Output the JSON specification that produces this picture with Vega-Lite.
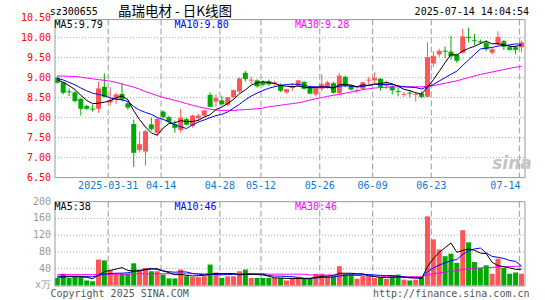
{
"$schema": "https://vega.github.io/schema/vega-lite/v6.json",
"width": 480, "height": 266.4,
"autosize": "none",
"padding": {"left": 50, "top": 19.6, "right": 15, "bottom": 14},
"background": "white",
"config": {"view": {"stroke": null}, "text": {"font": "DejaVu Sans Mono", "fontSize": 10}},
"datasets": {
"k": [
{"i":0,"d":"03-18","o":9.00,"h":9.04,"l":8.85,"c":8.88,"v":18,"m5":8.95,"m10":8.98,"m30":9.04,"vm5":20,"vm10":22,"vm30":26},
{"i":1,"d":"03-19","o":8.88,"h":8.90,"l":8.58,"c":8.63,"v":28,"m5":8.88,"m10":8.94,"m30":9.04,"vm5":20,"vm10":22,"vm30":26},
{"i":2,"d":"03-20","o":8.65,"h":8.73,"l":8.54,"c":8.64,"v":18,"m5":8.80,"m10":8.88,"m30":9.03,"vm5":21,"vm10":22,"vm30":26},
{"i":3,"d":"03-21","o":8.63,"h":8.67,"l":8.38,"c":8.42,"v":20,"m5":8.70,"m10":8.82,"m30":9.03,"vm5":21,"vm10":22,"vm30":26},
{"i":4,"d":"03-24","o":8.47,"h":8.50,"l":8.05,"c":8.23,"v":20,"m5":8.56,"m10":8.74,"m30":9.01,"vm5":20.8,"vm10":22,"vm30":26},
{"i":5,"d":"03-25","o":8.29,"h":8.32,"l":8.18,"c":8.23,"v":12,"m5":8.43,"m10":8.67,"m30":8.99,"vm5":19.6,"vm10":21,"vm30":26},
{"i":6,"d":"03-26","o":8.22,"h":8.32,"l":8.15,"c":8.21,"v":10,"m5":8.346,"m10":8.61,"m30":8.97,"vm5":16,"vm10":21,"vm30":26},
{"i":7,"d":"03-27","o":8.22,"h":8.90,"l":8.12,"c":8.72,"v":62,"m5":8.362,"m10":8.58,"m30":8.95,"vm5":24.8,"vm10":24,"vm30":27},
{"i":8,"d":"03-28","o":8.77,"h":9.10,"l":8.50,"c":8.53,"v":60,"m5":8.384,"m10":8.55,"m30":8.93,"vm5":32.8,"vm10":27,"vm30":27},
{"i":9,"d":"03-31","o":8.38,"h":8.76,"l":8.30,"c":8.43,"v":36,"m5":8.424,"m10":8.492,"m30":8.91,"vm5":36,"vm10":28.4,"vm30":27},
{"i":10,"d":"04-01","o":8.45,"h":8.62,"l":8.34,"c":8.57,"v":28,"m5":8.492,"m10":8.461,"m30":8.88,"vm5":39.2,"vm10":29.4,"vm30":27},
{"i":11,"d":"04-02","o":8.59,"h":8.86,"l":8.40,"c":8.46,"v":28,"m5":8.542,"m10":8.444,"m30":8.84,"vm5":42.8,"vm10":29.4,"vm30":27},
{"i":12,"d":"04-03","o":8.36,"h":8.42,"l":8.20,"c":8.26,"v":28,"m5":8.45,"m10":8.406,"m30":8.80,"vm5":36,"vm10":30.4,"vm30":27},
{"i":13,"d":"04-07","o":7.84,"h":7.95,"l":6.77,"c":7.13,"v":53,"m5":8.17,"m10":8.277,"m30":8.76,"vm5":34.6,"vm10":33.7,"vm30":28},
{"i":14,"d":"04-08","o":7.19,"h":7.65,"l":7.13,"c":7.33,"v":38,"m5":7.95,"m10":8.187,"m30":8.71,"vm5":35,"vm10":35.5,"vm30":28},
{"i":15,"d":"04-09","o":7.15,"h":7.70,"l":6.80,"c":7.65,"v":42,"m5":7.766,"m10":8.129,"m30":8.65,"vm5":37.8,"vm10":38.5,"vm30":28},
{"i":16,"d":"04-10","o":7.83,"h":7.99,"l":7.67,"c":7.72,"v":34,"m5":7.618,"m10":8.08,"m30":8.60,"vm5":39,"vm10":40.9,"vm30":28},
{"i":17,"d":"04-11","o":7.62,"h":8.01,"l":7.55,"c":7.96,"v":34,"m5":7.558,"m10":8.004,"m30":8.55,"vm5":40.2,"vm10":38.1,"vm30":28},
{"i":18,"d":"04-14","o":8.15,"h":8.18,"l":7.98,"c":8.02,"v":26,"m5":7.736,"m10":7.953,"m30":8.50,"vm5":34.8,"vm10":34.7,"vm30":28},
{"i":19,"d":"04-15","o":8.01,"h":8.05,"l":7.86,"c":7.90,"v":17,"m5":7.85,"m10":7.90,"m30":8.47,"vm5":30.6,"vm10":32.8,"vm30":28},
{"i":20,"d":"04-16","o":7.84,"h":7.93,"l":7.62,"c":7.75,"v":17,"m5":7.87,"m10":7.818,"m30":8.43,"vm5":25.6,"vm10":31.7,"vm30":28},
{"i":21,"d":"04-17","o":7.69,"h":8.22,"l":7.63,"c":7.99,"v":38,"m5":7.924,"m10":7.771,"m30":8.39,"vm5":26.4,"vm10":32.7,"vm30":28},
{"i":22,"d":"04-18","o":7.96,"h":8.00,"l":7.80,"c":7.83,"v":22,"m5":7.898,"m10":7.728,"m30":8.35,"vm5":24,"vm10":32.1,"vm30":28},
{"i":23,"d":"04-21","o":7.79,"h":8.07,"l":7.75,"c":8.04,"v":20,"m5":7.902,"m10":7.819,"m30":8.31,"vm5":22.8,"vm10":28.8,"vm30":28},
{"i":24,"d":"04-22","o":7.98,"h":8.10,"l":7.92,"c":8.04,"v":20,"m5":7.93,"m10":7.89,"m30":8.27,"vm5":23.4,"vm10":27,"vm30":28},
{"i":25,"d":"04-23","o":8.05,"h":8.20,"l":8.02,"c":8.17,"v":22,"m5":8.014,"m10":7.942,"m30":8.24,"vm5":24.4,"vm10":25,"vm30":28},
{"i":26,"d":"04-24","o":8.57,"h":8.63,"l":8.26,"c":8.28,"v":50,"m5":8.072,"m10":7.998,"m30":8.21,"vm5":26.8,"vm10":26.6,"vm30":28},
{"i":27,"d":"04-25","o":8.40,"h":8.58,"l":8.27,"c":8.48,"v":31,"m5":8.202,"m10":8.05,"m30":8.19,"vm5":28.6,"vm10":26.3,"vm30":28},
{"i":28,"d":"04-28","o":8.43,"h":8.55,"l":8.30,"c":8.34,"v":18,"m5":8.262,"m10":8.082,"m30":8.18,"vm5":28.2,"vm10":25.5,"vm30":28},
{"i":29,"d":"04-29","o":8.32,"h":8.52,"l":8.28,"c":8.50,"v":22,"m5":8.354,"m10":8.142,"m30":8.18,"vm5":28.6,"vm10":26,"vm30":28},
{"i":30,"d":"04-30","o":8.51,"h":8.70,"l":8.48,"c":8.68,"v":22,"m5":8.456,"m10":8.235,"m30":8.18,"vm5":28.6,"vm10":26.5,"vm30":28},
{"i":31,"d":"05-06","o":8.65,"h":9.00,"l":8.62,"c":8.97,"v":34,"m5":8.594,"m10":8.333,"m30":8.19,"vm5":25.4,"vm10":26.1,"vm30":28},
{"i":32,"d":"05-07","o":9.12,"h":9.17,"l":8.90,"c":8.97,"v":38,"m5":8.692,"m10":8.447,"m30":8.20,"vm5":26.8,"vm10":27.7,"vm30":28},
{"i":33,"d":"05-08","o":8.93,"h":9.02,"l":8.84,"c":8.94,"v":18,"m5":8.812,"m10":8.537,"m30":8.21,"vm5":26.8,"vm10":27.5,"vm30":28},
{"i":34,"d":"05-09","o":8.93,"h":8.96,"l":8.75,"c":8.79,"v":18,"m5":8.87,"m10":8.612,"m30":8.22,"vm5":26,"vm10":27.3,"vm30":28},
{"i":35,"d":"05-12","o":8.89,"h":8.93,"l":8.78,"c":8.83,"v":18,"m5":8.90,"m10":8.678,"m30":8.24,"vm5":25.2,"vm10":26.9,"vm30":28},
{"i":36,"d":"05-13","o":8.91,"h":8.95,"l":8.80,"c":8.84,"v":18,"m5":8.874,"m10":8.734,"m30":8.27,"vm5":22,"vm10":23.7,"vm30":27},
{"i":37,"d":"05-14","o":8.85,"h":8.92,"l":8.77,"c":8.87,"v":18,"m5":8.854,"m10":8.773,"m30":8.29,"vm5":18,"vm10":22.4,"vm30":27},
{"i":38,"d":"05-15","o":8.82,"h":8.85,"l":8.64,"c":8.68,"v":18,"m5":8.802,"m10":8.807,"m30":8.31,"vm5":18,"vm10":22.4,"vm30":27},
{"i":39,"d":"05-16","o":8.63,"h":8.72,"l":8.60,"c":8.70,"v":12,"m5":8.784,"m10":8.827,"m30":8.33,"vm5":16.8,"vm10":21.4,"vm30":27},
{"i":40,"d":"05-19","o":8.74,"h":8.86,"l":8.66,"c":8.77,"v":18,"m5":8.772,"m10":8.836,"m30":8.35,"vm5":16.8,"vm10":21,"vm30":27},
{"i":41,"d":"05-20","o":8.80,"h":8.94,"l":8.77,"c":8.92,"v":18,"m5":8.788,"m10":8.831,"m30":8.37,"vm5":16.8,"vm10":19.4,"vm30":27},
{"i":42,"d":"05-21","o":8.89,"h":8.92,"l":8.70,"c":8.73,"v":16,"m5":8.76,"m10":8.807,"m30":8.40,"vm5":16.4,"vm10":17.2,"vm30":27},
{"i":43,"d":"05-22","o":8.76,"h":8.80,"l":8.58,"c":8.61,"v":18,"m5":8.746,"m10":8.774,"m30":8.44,"vm5":16.4,"vm10":17.2,"vm30":25},
{"i":44,"d":"05-23","o":8.58,"h":8.76,"l":8.53,"c":8.74,"v":28,"m5":8.754,"m10":8.769,"m30":8.47,"vm5":19.6,"vm10":18.2,"vm30":25},
{"i":45,"d":"05-26","o":8.72,"h":9.08,"l":8.66,"c":8.83,"v":28,"m5":8.766,"m10":8.769,"m30":8.50,"vm5":21.6,"vm10":19.2,"vm30":25},
{"i":46,"d":"05-27","o":8.75,"h":8.92,"l":8.72,"c":8.87,"v":22,"m5":8.756,"m10":8.772,"m30":8.53,"vm5":22.4,"vm10":19.6,"vm30":25},
{"i":47,"d":"05-28","o":8.86,"h":8.90,"l":8.60,"c":8.63,"v":22,"m5":8.736,"m10":8.748,"m30":8.56,"vm5":23.6,"vm10":20,"vm30":25},
{"i":48,"d":"05-29","o":8.61,"h":9.12,"l":8.58,"c":9.04,"v":46,"m5":8.822,"m10":8.784,"m30":8.58,"vm5":29.2,"vm10":22.8,"vm30":25},
{"i":49,"d":"05-30","o":9.02,"h":9.05,"l":8.76,"c":8.80,"v":28,"m5":8.834,"m10":8.794,"m30":8.61,"vm5":29.2,"vm10":24.4,"vm30":25},
{"i":50,"d":"06-03","o":8.80,"h":8.83,"l":8.68,"c":8.71,"v":28,"m5":8.81,"m10":8.788,"m30":8.64,"vm5":29.2,"vm10":25.4,"vm30":24},
{"i":51,"d":"06-04","o":8.67,"h":8.73,"l":8.62,"c":8.68,"v":16,"m5":8.772,"m10":8.764,"m30":8.67,"vm5":28,"vm10":25.2,"vm30":24},
{"i":52,"d":"06-05","o":8.72,"h":8.90,"l":8.70,"c":8.87,"v":22,"m5":8.82,"m10":8.778,"m30":8.70,"vm5":28,"vm10":25.8,"vm30":23},
{"i":53,"d":"06-06","o":8.93,"h":9.02,"l":8.83,"c":8.94,"v":22,"m5":8.80,"m10":8.811,"m30":8.72,"vm5":23.2,"vm10":26.2,"vm30":23},
{"i":54,"d":"06-09","o":8.93,"h":9.13,"l":8.86,"c":8.98,"v":18,"m5":8.836,"m10":8.835,"m30":8.74,"vm5":21.2,"vm10":25.2,"vm30":23},
{"i":55,"d":"06-10","o":8.97,"h":8.99,"l":8.67,"c":8.77,"v":18,"m5":8.848,"m10":8.829,"m30":8.75,"vm5":19.2,"vm10":24.2,"vm30":22},
{"i":56,"d":"06-11","o":8.80,"h":8.92,"l":8.72,"c":8.84,"v":16,"m5":8.88,"m10":8.826,"m30":8.76,"vm5":19.2,"vm10":23.6,"vm30":22},
{"i":57,"d":"06-12","o":8.78,"h":8.83,"l":8.58,"c":8.69,"v":24,"m5":8.844,"m10":8.832,"m30":8.77,"vm5":19.6,"vm10":23.8,"vm30":22},
{"i":58,"d":"06-13","o":8.66,"h":8.75,"l":8.53,"c":8.65,"v":26,"m5":8.786,"m10":8.793,"m30":8.77,"vm5":20.4,"vm10":21.8,"vm30":22},
{"i":59,"d":"06-16","o":8.57,"h":8.64,"l":8.52,"c":8.58,"v":14,"m5":8.706,"m10":8.771,"m30":8.77,"vm5":19.6,"vm10":20.4,"vm30":21},
{"i":60,"d":"06-17","o":8.62,"h":8.67,"l":8.50,"c":8.61,"v":12,"m5":8.674,"m10":8.761,"m30":8.77,"vm5":18.4,"vm10":18.8,"vm30":21},
{"i":61,"d":"06-18","o":8.57,"h":8.64,"l":8.40,"c":8.58,"v":14,"m5":8.622,"m10":8.751,"m30":8.77,"vm5":18,"vm10":18.6,"vm30":21},
{"i":62,"d":"06-19","o":8.60,"h":8.66,"l":8.48,"c":8.52,"v":20,"m5":8.588,"m10":8.716,"m30":8.77,"vm5":17.2,"vm10":18.4,"vm30":21},
{"i":63,"d":"06-20","o":8.52,"h":9.88,"l":8.50,"c":9.50,"v":165,"m5":8.758,"m10":8.772,"m30":8.78,"vm5":45,"vm10":32.7,"vm30":25},
{"i":64,"d":"06-23","o":9.35,"h":9.66,"l":9.26,"c":9.53,"v":110,"m5":8.948,"m10":8.827,"m30":8.80,"vm5":64.2,"vm10":41.9,"vm30":28},
{"i":65,"d":"06-24","o":9.58,"h":9.72,"l":9.52,"c":9.66,"v":86,"m5":9.158,"m10":8.916,"m30":8.83,"vm5":79,"vm10":48.7,"vm30":30},
{"i":66,"d":"06-25","o":9.67,"h":9.78,"l":9.49,"c":9.66,"v":70,"m5":9.374,"m10":8.998,"m30":8.86,"vm5":90.2,"vm10":54.1,"vm30":32},
{"i":67,"d":"06-26","o":9.65,"h":10.05,"l":9.45,"c":9.54,"v":76,"m5":9.578,"m10":9.083,"m30":8.89,"vm5":101.4,"vm10":59.3,"vm30":34},
{"i":68,"d":"06-27","o":9.57,"h":9.60,"l":9.37,"c":9.43,"v":54,"m5":9.564,"m10":9.161,"m30":8.92,"vm5":79.2,"vm10":62.1,"vm30":35},
{"i":69,"d":"06-30","o":9.62,"h":10.22,"l":9.60,"c":10.02,"v":132,"m5":9.662,"m10":9.305,"m30":8.96,"vm5":83.6,"vm10":73.9,"vm30":38},
{"i":70,"d":"07-01","o":10.02,"h":10.25,"l":9.88,"c":10.00,"v":103,"m5":9.73,"m10":9.444,"m30":9.00,"vm5":87,"vm10":83,"vm30":40},
{"i":71,"d":"07-02","o":9.93,"h":10.09,"l":9.81,"c":9.92,"v":56,"m5":9.782,"m10":9.578,"m30":9.04,"vm5":84.2,"vm10":87.2,"vm30":41},
{"i":72,"d":"07-03","o":9.90,"h":9.95,"l":9.84,"c":9.89,"v":42,"m5":9.852,"m10":9.715,"m30":9.08,"vm5":77.4,"vm10":89.4,"vm30":42},
{"i":73,"d":"07-04","o":9.87,"h":9.93,"l":9.66,"c":9.72,"v":48,"m5":9.91,"m10":9.737,"m30":9.11,"vm5":76.2,"vm10":77.7,"vm30":43},
{"i":74,"d":"07-07","o":9.62,"h":9.76,"l":9.58,"c":9.70,"v":28,"m5":9.846,"m10":9.754,"m30":9.14,"vm5":55.4,"vm10":69.5,"vm30":43},
{"i":75,"d":"07-08","o":9.83,"h":10.16,"l":9.80,"c":10.01,"v":64,"m5":9.848,"m10":9.789,"m30":9.17,"vm5":47.6,"vm10":67.3,"vm30":45},
{"i":76,"d":"07-09","o":9.91,"h":9.94,"l":9.69,"c":9.78,"v":42,"m5":9.82,"m10":9.801,"m30":9.20,"vm5":44.8,"vm10":64.5,"vm30":45},
{"i":77,"d":"07-10","o":9.76,"h":9.82,"l":9.68,"c":9.70,"v":28,"m5":9.782,"m10":9.817,"m30":9.23,"vm5":42,"vm10":59.7,"vm30":45},
{"i":78,"d":"07-11","o":9.76,"h":9.81,"l":9.58,"c":9.70,"v":31,"m5":9.778,"m10":9.844,"m30":9.26,"vm5":38.6,"vm10":57.4,"vm30":46},
{"i":79,"d":"07-14","o":9.76,"h":9.93,"l":9.63,"c":9.87,"v":28,"m5":9.812,"m10":9.829,"m30":9.28,"vm5":38.6,"vm10":47,"vm30":46}
],
"pt": [{"v":6.5},{"v":7},{"v":7.5},{"v":8},{"v":8.5},{"v":9},{"v":9.5},{"v":10},{"v":10.5}],
"vt": [{"v":0,"t":"x万"},{"v":40,"t":"40"},{"v":80,"t":"80"},{"v":120,"t":"120"},{"v":160,"t":"160"},{"v":200,"t":"200"}],
"dt": [{"i":9,"t":"2025-03-31"},{"i":18,"t":"04-14"},{"i":28,"t":"04-28"},{"i":35,"t":"05-12"},{"i":45,"t":"05-26"},{"i":54,"t":"06-09"},{"i":64,"t":"06-23"},{"i":79,"t":"07-14"}]
},
"data": {"name": "k"},
"layer": [
{"data": {"name": "pt"}, "transform": [{"filter": "datum.v > 6.7 && datum.v < 10.3"}],
 "mark": {"type": "rule", "color": "#a8a8a8", "strokeDash": [1, 2], "strokeWidth": 1},
 "encoding": {"x": {"datum": -0.4, "type": "quantitative", "scale": {"domain": [-0.4, 79.6], "nice": false, "zero": false}, "axis": null}, "x2": {"datum": 79.6},
  "y": {"field": "v", "type": "quantitative", "scale": {"domain": [3.79, 10.45], "nice": false, "zero": false}, "axis": null}}},
{"data": {"name": "vt"}, "transform": [{"filter": "datum.v >= 40 && datum.v <= 160"}],
 "mark": {"type": "rule", "color": "#a8a8a8", "strokeDash": [1, 2], "strokeWidth": 1},
 "encoding": {"x": {"datum": -0.4, "type": "quantitative", "scale": {"domain": [-0.4, 79.6], "nice": false, "zero": false}, "axis": null}, "x2": {"datum": 79.6},
  "y": {"field": "v", "type": "quantitative", "scale": {"domain": [-1.2, 634.6], "nice": false, "zero": false}, "axis": null}}},
{"data": {"name": "dt"},
 "mark": {"type": "rule", "color": "#aaaaaa", "strokeDash": [6, 3], "strokeWidth": 1.2, "xOffset": -2},
 "encoding": {"x": {"field": "i", "type": "quantitative", "scale": {"domain": [-0.4, 79.6], "nice": false, "zero": false}, "axis": null},
  "y": {"datum": 10.45, "type": "quantitative", "scale": {"domain": [3.79, 10.45], "nice": false, "zero": false}, "axis": null}, "y2": {"datum": 6.5}}},
{"data": {"name": "dt"},
 "mark": {"type": "rule", "color": "#aaaaaa", "strokeDash": [6, 3], "strokeWidth": 1.2, "xOffset": -2},
 "encoding": {"x": {"field": "i", "type": "quantitative", "scale": {"domain": [-0.4, 79.6], "nice": false, "zero": false}, "axis": null},
  "y": {"datum": 200, "type": "quantitative", "scale": {"domain": [-1.2, 634.6], "nice": false, "zero": false}, "axis": null}, "y2": {"datum": -1.2}}},
{"mark": {"type": "rule", "strokeWidth": 1},
 "encoding": {"x": {"field": "i", "type": "quantitative", "scale": {"domain": [-0.4, 79.6], "nice": false, "zero": false}, "axis": null},
  "y": {"field": "l", "type": "quantitative", "scale": {"domain": [3.79, 10.45], "nice": false, "zero": false}, "axis": null}, "y2": {"field": "h"},
  "color": {"condition": {"test": "datum.c >= datum.o", "value": "#ff5555"}, "value": "#00a800"}}},
{"mark": {"type": "bar", "size": 5},
 "encoding": {"x": {"field": "i", "type": "quantitative", "scale": {"domain": [-0.4, 79.6], "nice": false, "zero": false}, "axis": null},
  "y": {"field": "o", "type": "quantitative", "scale": {"domain": [3.79, 10.45], "nice": false, "zero": false}, "axis": null}, "y2": {"field": "c"},
  "color": {"condition": {"test": "datum.c >= datum.o", "value": "#ff5555"}, "value": "#00a800"}}},
{"mark": {"type": "tick", "orient": "horizontal", "size": 5, "thickness": 1},
 "encoding": {"x": {"field": "i", "type": "quantitative", "scale": {"domain": [-0.4, 79.6], "nice": false, "zero": false}, "axis": null},
  "y": {"field": "c", "type": "quantitative", "scale": {"domain": [3.79, 10.45], "nice": false, "zero": false}, "axis": null},
  "color": {"condition": {"test": "datum.c >= datum.o", "value": "#ff5555"}, "value": "#00a800"}}},
{"mark": {"type": "line", "color": "#ff00ff", "strokeWidth": 1},
 "encoding": {"x": {"field": "i", "type": "quantitative", "scale": {"domain": [-0.4, 79.6], "nice": false, "zero": false}, "axis": null},
  "y": {"field": "m30", "type": "quantitative", "scale": {"domain": [3.79, 10.45], "nice": false, "zero": false}, "axis": null}}},
{"mark": {"type": "line", "color": "#0000ff", "strokeWidth": 1},
 "encoding": {"x": {"field": "i", "type": "quantitative", "scale": {"domain": [-0.4, 79.6], "nice": false, "zero": false}, "axis": null},
  "y": {"field": "m10", "type": "quantitative", "scale": {"domain": [3.79, 10.45], "nice": false, "zero": false}, "axis": null}}},
{"mark": {"type": "line", "color": "#000000", "strokeWidth": 1},
 "encoding": {"x": {"field": "i", "type": "quantitative", "scale": {"domain": [-0.4, 79.6], "nice": false, "zero": false}, "axis": null},
  "y": {"field": "m5", "type": "quantitative", "scale": {"domain": [3.79, 10.45], "nice": false, "zero": false}, "axis": null}}},
{"mark": {"type": "bar", "size": 5},
 "encoding": {"x": {"field": "i", "type": "quantitative", "scale": {"domain": [-0.4, 79.6], "nice": false, "zero": false}, "axis": null},
  "y": {"field": "v", "type": "quantitative", "scale": {"domain": [-1.2, 634.6], "nice": false, "zero": false}, "axis": null}, "y2": {"datum": 0},
  "color": {"condition": {"test": "datum.c >= datum.o", "value": "#ff5555"}, "value": "#00a800"}}},
{"mark": {"type": "line", "color": "#ff00ff", "strokeWidth": 1},
 "encoding": {"x": {"field": "i", "type": "quantitative", "scale": {"domain": [-0.4, 79.6], "nice": false, "zero": false}, "axis": null},
  "y": {"field": "vm30", "type": "quantitative", "scale": {"domain": [-1.2, 634.6], "nice": false, "zero": false}, "axis": null}}},
{"mark": {"type": "line", "color": "#0000ff", "strokeWidth": 1},
 "encoding": {"x": {"field": "i", "type": "quantitative", "scale": {"domain": [-0.4, 79.6], "nice": false, "zero": false}, "axis": null},
  "y": {"field": "vm10", "type": "quantitative", "scale": {"domain": [-1.2, 634.6], "nice": false, "zero": false}, "axis": null}}},
{"mark": {"type": "line", "color": "#000000", "strokeWidth": 1},
 "encoding": {"x": {"field": "i", "type": "quantitative", "scale": {"domain": [-0.4, 79.6], "nice": false, "zero": false}, "axis": null},
  "y": {"field": "vm5", "type": "quantitative", "scale": {"domain": [-1.2, 634.6], "nice": false, "zero": false}, "axis": null}}},
{"data": {"values": [{}]},
 "mark": {"type": "rect", "fillOpacity": 0, "stroke": "#999999", "strokeWidth": 1},
 "encoding": {"x": {"datum": -0.4, "type": "quantitative", "scale": {"domain": [-0.4, 79.6], "nice": false, "zero": false}, "axis": null}, "x2": {"datum": 79.6},
  "y": {"datum": 10.45, "type": "quantitative", "scale": {"domain": [3.79, 10.45], "nice": false, "zero": false}, "axis": null}, "y2": {"datum": 6.5}}},
{"data": {"values": [{}]},
 "mark": {"type": "rect", "fillOpacity": 0, "stroke": "#999999", "strokeWidth": 1},
 "encoding": {"x": {"datum": -0.4, "type": "quantitative", "scale": {"domain": [-0.4, 79.6], "nice": false, "zero": false}, "axis": null}, "x2": {"datum": 79.6},
  "y": {"datum": 200, "type": "quantitative", "scale": {"domain": [-1.2, 634.6], "nice": false, "zero": false}, "axis": null}, "y2": {"datum": -1.2}}},
{"data": {"name": "pt"},
 "mark": {"type": "text", "align": "right", "baseline": "middle", "dx": -4, "color": "#ff0000"},
 "encoding": {"x": {"datum": -0.4, "type": "quantitative", "scale": {"domain": [-0.4, 79.6], "nice": false, "zero": false}, "axis": null},
  "y": {"field": "v", "type": "quantitative", "scale": {"domain": [3.79, 10.45], "nice": false, "zero": false}, "axis": null},
  "text": {"field": "v", "type": "quantitative", "format": ".2f"}}},
{"data": {"name": "vt"},
 "mark": {"type": "text", "align": "right", "baseline": "middle", "dx": -4, "color": "#999999"},
 "encoding": {"x": {"datum": -0.4, "type": "quantitative", "scale": {"domain": [-0.4, 79.6], "nice": false, "zero": false}, "axis": null},
  "y": {"field": "v", "type": "quantitative", "scale": {"domain": [-1.2, 634.6], "nice": false, "zero": false}, "axis": null},
  "text": {"field": "t", "type": "nominal"}}},
{"data": {"name": "dt"}, "transform": [{"filter": "datum.i < 79"}],
 "mark": {"type": "text", "align": "center", "baseline": "middle", "xOffset": -2, "color": "#1177cc"},
 "encoding": {"x": {"field": "i", "type": "quantitative", "scale": {"domain": [-0.4, 79.6], "nice": false, "zero": false}, "axis": null},
  "y": {"datum": 6.28, "type": "quantitative", "scale": {"domain": [3.79, 10.45], "nice": false, "zero": false}, "axis": null},
  "text": {"field": "t", "type": "nominal"}}},
{"data": {"name": "dt"}, "transform": [{"filter": "datum.i == 79"}],
 "mark": {"type": "text", "align": "right", "baseline": "middle", "xOffset": -1, "color": "#1177cc"},
 "encoding": {"x": {"field": "i", "type": "quantitative", "scale": {"domain": [-0.4, 79.6], "nice": false, "zero": false}, "axis": null},
  "y": {"datum": 6.28, "type": "quantitative", "scale": {"domain": [3.79, 10.45], "nice": false, "zero": false}, "axis": null},
  "text": {"field": "t", "type": "nominal"}}},
{"data": {"values": [{}]}, "mark": {"type": "text", "text": "sz300655", "align": "left", "baseline": "middle", "color": "#000000"},
 "encoding": {"x": {"value": -0.3}, "y": {"value": -7.6}}},
{"data": {"values": [{}]}, "mark": {"type": "text", "text": "晶瑞电材 - 日K线图", "align": "left", "baseline": "middle", "color": "#000000", "font": "Noto Sans CJK SC", "fontSize": 13.5},
 "encoding": {"x": {"value": 68}, "y": {"value": -7.6}}},
{"data": {"values": [{}]}, "mark": {"type": "text", "text": "2025-07-14 14:04:54", "align": "right", "baseline": "middle", "color": "#000000"},
 "encoding": {"x": {"value": 479}, "y": {"value": -7.6}}},
{"data": {"values": [{}]}, "mark": {"type": "text", "text": "MA5:9.79", "align": "left", "baseline": "middle", "color": "#000000"},
 "encoding": {"x": {"value": 4.6}, "y": {"value": 5.6}}},
{"data": {"values": [{}]}, "mark": {"type": "text", "text": "MA10:9.80", "align": "left", "baseline": "middle", "color": "#0000ff"},
 "encoding": {"x": {"value": 124.5}, "y": {"value": 5.6}}},
{"data": {"values": [{}]}, "mark": {"type": "text", "text": "MA30:9.28", "align": "left", "baseline": "middle", "color": "#ff00ff"},
 "encoding": {"x": {"value": 245}, "y": {"value": 5.6}}},
{"data": {"values": [{}]}, "mark": {"type": "text", "text": "MA5:38", "align": "left", "baseline": "middle", "color": "#000000"},
 "encoding": {"x": {"value": 4.6}, "y": {"value": 187}}},
{"data": {"values": [{}]}, "mark": {"type": "text", "text": "MA10:46", "align": "left", "baseline": "middle", "color": "#0000ff"},
 "encoding": {"x": {"value": 124.5}, "y": {"value": 187}}},
{"data": {"values": [{}]}, "mark": {"type": "text", "text": "MA30:46", "align": "left", "baseline": "middle", "color": "#ff00ff"},
 "encoding": {"x": {"value": 245}, "y": {"value": 187}}},
{"data": {"values": [{}]}, "mark": {"type": "text", "text": "Copyright 2025 SINA.COM", "align": "left", "baseline": "middle", "color": "#555555"},
 "encoding": {"x": {"value": 0.4}, "y": {"value": 274.4}}},
{"data": {"values": [{}]}, "mark": {"type": "text", "text": "http://finance.sina.com.cn", "align": "right", "baseline": "middle", "color": "#555555"},
 "encoding": {"x": {"value": 479.5}, "y": {"value": 274.4}}},
{"data": {"values": [{}]}, "mark": {"type": "text", "text": "sina", "align": "center", "baseline": "middle", "color": "#c4c4c4", "font": "DejaVu Sans", "fontSize": 17, "fontStyle": "italic", "fontWeight": "bold"},
 "encoding": {"x": {"value": 462}, "y": {"value": 144}}}
],
"resolve": {"scale": {"y": "independent"}}
}
